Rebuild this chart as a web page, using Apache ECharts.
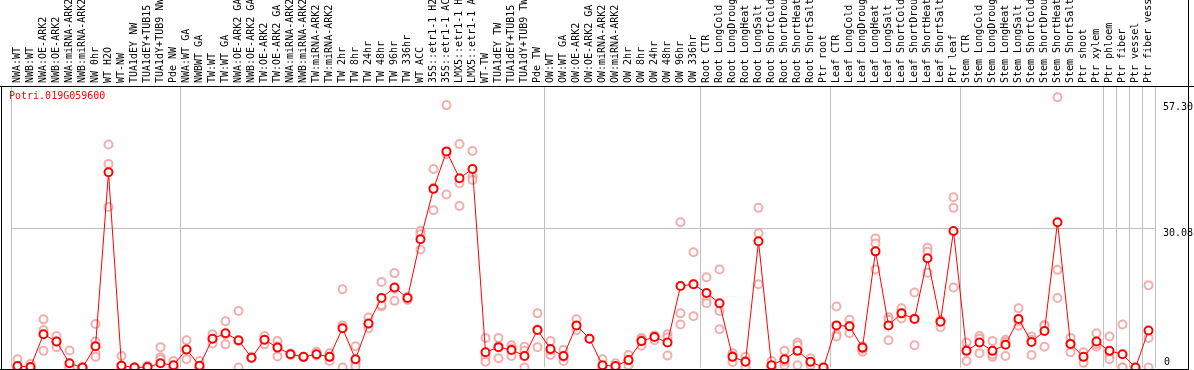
<!DOCTYPE html>
<html>
<head>
<meta charset="utf-8">
<script src="https://cdn.jsdelivr.net/npm/echarts@6/dist/echarts.min.js"></script>
<style>
html,body{margin:0;padding:0;background:#fff;}
#chart{width:1194px;height:370px;}
</style>
</head>
<body>
<div id="chart"></div>
<script>
var geneTitle = 'Potri.019G059600';

var categories = [
  'NWA:WT','NWB:WT','NWA:OE-ARK2','NWB:OE-ARK2','NWA:miRNA-ARK2','NWB:miRNA-ARK2','NW 0hr','WT H2O','WT-NW','TUA1dEY NW','TUA1dEY+TUB15','TUA1dY+TUB9 NW','Pde NW',
  'NWA:WT GA','NWBWT GA','TW:WT','TW:WT GA','NWA:OE-ARK2 GA','NWB:OE-ARK2 GA','TW:OE-ARK2','TW:OE-ARK2 GA','NWA:miRNA-ARK2','NWB:miRNA-ARK2','TW:miRNA-ARK2','TW:miRNA-ARK2','TW 2hr','TW 8hr','TW 24hr','TW 48hr','TW 96hr','TW 336hr','WT ACC','35S::etr1-1 H2O','35S::etr1-1 ACC','LMX5::etr1-1 H2O','LMX5::etr1-1 ACC','WT-TW','TUA1dEY TW','TUA1dEY+TUB15','TUA1dY+TUB9 TW','Pde TW',
  'OW:WT','OW:WT GA','OW:OE-ARK2','OW:OE-ARK2 GA','OW:miRNA-ARK2','OW:miRNA-ARK2','OW 2hr','OW 8hr','OW 24hr','OW 48hr','OW 96hr','OW 336hr',
  'Root CTR','Root LongCold','Root LongDrought','Root LongHeat','Root LongSalt','Root ShortCold','Root ShortDrought','Root ShortHeat','Root ShortSalt','Ptr root',
  'Leaf CTR','Leaf LongCold','Leaf LongDrought','Leaf LongHeat','Leaf LongSalt','Leaf ShortCold','Leaf ShortDrought','Leaf ShortHeat','Leaf ShortSalt','Ptr leaf',
  'Stem CTR','Stem LongCold','Stem LongDrought','Stem LongHeat','Stem LongSalt','Stem ShortCold','Stem ShortDrought','Stem ShortHeat','Stem ShortSalt','Ptr shoot','Ptr xylem',
  'Ptr phloem','Ptr fiber','Ptr vessel','Ptr fiber vessel'
];

// indices where a new sample group starts (vertical separators)
var groupStarts = [0, 13, 41, 53, 63, 73, 84, 85, 86, 87];

var meanValues = [
  0.3,0.1,7.2,5.6,0.9,0.0,4.6,42.2,0.4,0.0,0.1,0.9,0.5,
  3.9,0.4,6.2,7.4,5.9,2.1,6.0,4.3,2.85,2.3,2.85,2.3,8.5,1.8,9.5,15.0,17.3,15.0,27.7,38.6,46.7,40.9,42.9,3.3,4.4,3.8,2.5,8.1,
  4.0,2.5,9.1,6.2,0.5,0.3,1.6,5.7,6.6,5.4,17.6,18.0,
  16.1,13.9,2.3,1.25,27.3,0.5,1.8,3.6,1.25,0.0,
  9.1,8.9,4.3,25.1,9.1,11.7,10.5,23.6,9.9,29.5,
  3.6,5.4,3.6,4.9,10.5,5.5,7.9,31.4,5.1,2.3,5.6,
  3.6,2.85,0.0,8.0
];

var rep1 = [
  1.8,0.75,10.4,6.8,3.7,0,9.4,48.2,2.5,0,0.4,4.4,1.4,
  5.9,1.4,7.2,10.0,12.2,2.3,6.8,5.7,3.0,2.3,3.4,3.1,16.9,4.6,10.8,18.5,20.4,14.6,29.5,42.9,56.7,48.3,46.8,6.4,6.4,4.8,4.5,11.7,
  5.7,3.8,10.4,6.2,1.8,0.9,2.7,6.4,6.9,7.2,31.4,24.9,
  19.5,21.2,3.1,2.3,34.5,1.4,3.6,5.4,2.0,0,
  13.2,10.3,3.4,27.9,10.85,12.8,16.2,25.9,8.7,36.8,
  5.4,6.8,5.7,6.0,12.8,6.7,9.2,58.4,6.4,3.3,7.4,
  6.7,9.3,0,17.8
];
var rep2 = [
  0,0,8.1,4.4,0,0,5.6,44.0,0,0,0,2.2,0,
  1.8,0,5.2,5.0,5.7,2.0,5.0,2.4,2.7,2.2,2.6,1.4,9.1,0.9,8.5,13.2,14.4,15.3,28.8,34.0,46.1,39.8,41.2,2.1,4.6,2.5,3.6,4.4,
  2.7,1.4,8.1,null,0,0,0.5,4.7,5.9,2.6,11.7,11.1,
  14.6,12.2,1.2,0,29.0,0,0.5,0.5,0.5,null,
  7.2,7.4,4.6,26.8,5.9,10.6,4.8,25.0,10.2,34.5,
  1.4,3.1,2.3,2.5,9.0,2.7,4.5,21.1,3.3,1.0,4.5,
  2.5,0,null,6.4
];
var rep3 = [
  0,0,3.6,5.6,0,0,3.0,34.7,0,0,0,1.8,0,
  3.9,0,6.2,7.2,0,null,6.0,4.6,null,null,null,2.3,0,0.2,9.4,13.5,17.0,null,25.5,38.8,37.4,34.9,40.5,1.25,2.0,4.1,0,8.2,
  3.7,2.3,null,null,null,null,1.6,6.0,6.8,6.5,9.3,18.0,
  13.9,8.25,2.5,1.4,18.0,0,1.3,4.8,1.2,null,
  6.7,9.0,4.0,21.2,10.3,11.8,10.6,20.5,10.0,17.3,
  3.9,6.2,2.8,5.5,10.0,6.0,9.0,15.0,5.0,null,5.0,
  1.8,0,null,0
];
var rep4 = [
  null,null,null,null,null,null,2.3,null,null,null,null,null,null,
  null,null,null,null,null,null,null,null,null,null,null,null,null,null,null,null,null,null,null,null,null,null,null,null,null,null,null,null,
  null,null,null,null,null,null,null,null,null,null,null,null,
  null,null,null,null,null,null,null,null,null,null,
  null,null,null,null,null,null,null,null,null,null,
  null,null,null,null,null,null,null,null,null,null,null,
  null,null,null,null
];

var yTickLabels = [30.08, 57.30];
var yZeroLabel = [0];
var yMax = 60.83;

var MONO = 'DejaVu Sans Mono';
var repColor = '#ee9a9a';
var repSeries = [rep1, rep2, rep3, rep4].map(function (arr, k) {
  return {
    name: 'rep' + (k + 1),
    type: 'scatter',
    data: arr,
    symbol: 'emptyCircle',
    symbolSize: 8,
    itemStyle: { color: repColor, borderColor: repColor, borderWidth: 1.5 },
    emphasis: { disabled: true },
    silent: true,
    z: 2
  };
});

var chart = echarts.init(document.getElementById('chart'), null, { renderer: 'canvas' });
chart.setOption({
  animation: false,
  backgroundColor: '#ffffff',
  title: {
    text: geneTitle,
    left: 9,
    top: 91,
    padding: 0,
    textStyle: { color: '#ff0000', fontFamily: MONO, fontSize: 10, fontWeight: 'normal' }
  },
  grid: { left: 11, right: 39, top: 86, bottom: 2.5, containLabel: false, outerBoundsMode: 'none' },
  graphic: [
    { type: 'line', shape: { x1: 0, y1: 86.5, x2: 1194, y2: 86.5 }, style: { stroke: '#000', lineWidth: 1 }, z: 100 },
    { type: 'line', shape: { x1: 1.5, y1: 86, x2: 1.5, y2: 370 }, style: { stroke: '#000', lineWidth: 1 }, z: 100 },
    { type: 'line', shape: { x1: 0, y1: 369.5, x2: 1188, y2: 369.5 }, style: { stroke: '#000', lineWidth: 1 }, z: 100 },
    { type: 'line', shape: { x1: 1188.5, y1: 0, x2: 1188.5, y2: 370 }, style: { stroke: '#000', lineWidth: 1 }, z: 100 }
  ],
  xAxis: {
    type: 'category',
    position: 'top',
    data: categories,
    boundaryGap: true,
    axisLine: { show: false },
    axisTick: { show: false },
    axisLabel: {
      interval: 0,
      rotate: 90,
      margin: 3,
      color: '#000',
      fontFamily: MONO,
      fontSize: 10,
      hideOverlap: false
    },
    splitLine: {
      show: true,
      interval: function (index) { return groupStarts.indexOf(index) >= 0; },
      lineStyle: { color: '#c0c0c0', width: 1 }
    }
  },
  yAxis: [
    {
      type: 'value',
      position: 'right',
      min: 0,
      max: yMax,
      axisLine: { show: false },
      axisTick: { show: false, customValues: [30.08] },
      axisLabel: {
        customValues: yTickLabels,
        formatter: function (v) { return v.toFixed(2); },
        verticalAlign: 'top',
        margin: 8,
        color: '#000',
        fontFamily: MONO,
        fontSize: 10
      },
      splitLine: { show: true, lineStyle: { color: '#c0c0c0', width: 1 } }
    },
    {
      type: 'value',
      position: 'right',
      min: 0,
      max: yMax,
      axisLine: { show: false },
      axisTick: { show: false, customValues: yZeroLabel },
      axisLabel: {
        customValues: yZeroLabel,
        formatter: function (v) { return String(v); },
        verticalAlign: 'bottom',
        margin: 9,
        color: '#000',
        fontFamily: MONO,
        fontSize: 10
      },
      splitLine: { show: false }
    }
  ],
  series: repSeries.concat([
    {
      name: 'mean',
      type: 'line',
      data: meanValues,
      symbol: 'emptyCircle',
      symbolSize: 8,
      showAllSymbol: true,
      lineStyle: { color: '#ff0000', width: 1 },
      itemStyle: { color: '#ff0000', borderColor: '#ff0000', borderWidth: 2 },
      emphasis: { disabled: true },
      silent: true,
      z: 3
    }
  ])
});
</script>
</body>
</html>
